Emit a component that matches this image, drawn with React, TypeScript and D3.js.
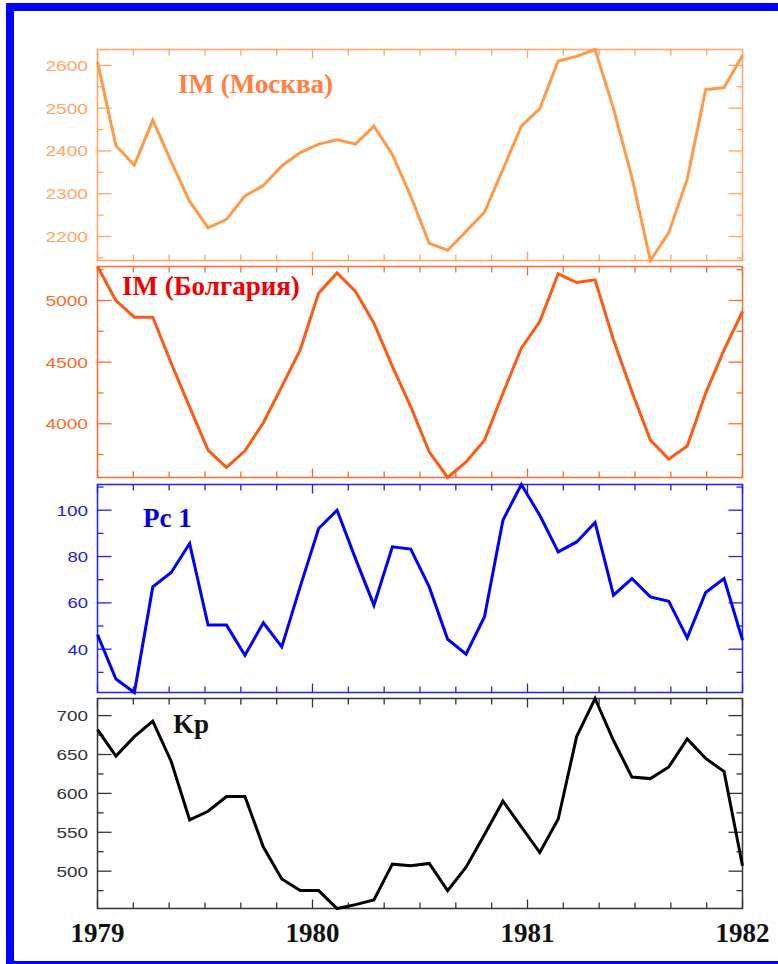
import React, { useEffect, useRef } from 'react'
import * as d3 from 'd3'

// monthly values, Jan 1979 .. Dec 1981, stretched over 1979-1982
const years = [1979, 1980, 1981, 1982]
const imMoscow = [2608, 2412, 2367, 2472, 2375, 2282, 2220, 2240, 2295, 2319, 2365, 2396,
  2416, 2426, 2416, 2458, 2392, 2294, 2184, 2168, 2212, 2257, 2357, 2458,
  2499, 2610, 2621, 2637, 2499, 2338, 2144, 2209, 2334, 2543, 2548, 2623]
const imBulgaria = [5276, 5000, 4865, 4865, 4491, 4135, 3786, 3645, 3780, 4008, 4301, 4600,
  5060, 5223, 5073, 4816, 4466, 4138, 3772, 3564, 3691, 3867, 4247, 4613,
  4829, 5217, 5146, 5168, 4680, 4260, 3867, 3713, 3819, 4247, 4600, 4911]
const pc1 = [46.3, 27.1, 21.3, 66.9, 73.1, 85.6, 50.4, 50.4, 37.4, 51.4, 41.0, 67.0,
  92.1, 100, 79.1, 59.0, 84.2, 83.2, 66.9, 44.3, 37.9, 54.0, 95.7, 111.1,
  97.8, 82.0, 86.3, 94.7, 63.3, 70.5, 62.6, 60.7, 44.9, 64.5, 70.5, 43.9]
const kp = [682, 648, 673, 693, 641, 566, 577, 596, 596, 531, 490, 475,
  475, 452, 457, 463, 509, 507, 510, 475, 505, 547, 590, 557,
  524, 567, 673, 722, 668, 621, 619, 634, 670, 645, 628, 507]

const moscowTicks = [2200, 2300, 2400, 2500, 2600]
const bulgariaTicks = [4000, 4500, 5000]
const pc1Ticks = [40, 60, 80, 100]
const kpTicks = [500, 550, 600, 650, 700]

const panels = [
  { title: 'IM (Москва)', values: imMoscow, ticks: moscowTicks, top: 49.5, bottom: 260.5,
    line: '#ff9a48', axis: '#ffa466', titleColor: '#ff8040', tx: 178, ty: 93 },
  { title: 'IM (Болгария)', values: imBulgaria, ticks: bulgariaTicks, top: 266.5, bottom: 477.5,
    line: '#ff5a14', axis: '#ff6a2c', titleColor: '#f00000', tx: 122, ty: 295 },
  { title: 'Pc 1', values: pc1, ticks: pc1Ticks, top: 484.5, bottom: 692.5,
    line: '#0000ff', axis: '#2020ff', titleColor: '#0000e0', tx: 143, ty: 527 },
  { title: 'Kp', values: kp, ticks: kpTicks, top: 698.5, bottom: 908.5,
    line: '#000000', axis: '#333333', titleColor: '#111111', tx: 173, ty: 733 },
]

const X0 = 97.5
const X1 = 742.5

export default function App() {
  const ref = useRef<SVGSVGElement>(null)

  useEffect(() => {
    const svg = d3.select(ref.current)
    svg.selectAll('*').remove()

    // frame
    svg.append('rect').attr('x', 6).attr('y', 3).attr('width', 790).attr('height', 961).attr('fill', '#0000ff')
    svg.append('rect').attr('x', 14).attr('y', 11).attr('width', 780).attr('height', 950).attr('fill', '#ffffff')

    const x = d3.scaleLinear().domain([0, imMoscow.length - 1]).range([X0, X1])
    const xYear = d3.scaleLinear().domain([years[0], years[years.length - 1]]).range([X0, X1])
    const monthTicks = d3.range(0, 19).map(k => years[0] + k / 6)

    panels.forEach(p => {
      const ext = d3.extent(p.values) as [number, number]
      const y = d3.scaleLinear().domain(ext).range([p.bottom, p.top])
      const g = svg.append('g')
      const step = p.ticks[1] - p.ticks[0]
      const minor = d3.range(p.ticks[0] - step, p.ticks[p.ticks.length - 1] + step * 1.01, step / 2)
        .filter(v => v >= ext[0] && v <= ext[1])

      // y ticks both sides
      minor.forEach(v => {
        const len = p.ticks.includes(v) ? 14 : 6
        const yy = y(v)
        g.append('line').attr('x1', X0).attr('x2', X0 + len).attr('y1', yy).attr('y2', yy)
          .attr('stroke', p.axis).attr('stroke-width', 1.3)
        g.append('line').attr('x1', X1).attr('x2', X1 - len).attr('y1', yy).attr('y2', yy)
          .attr('stroke', p.axis).attr('stroke-width', 1.3)
      })
      // x ticks top and bottom
      monthTicks.forEach((t, k) => {
        const len = k % 6 === 0 ? 9 : 6
        const xx = xYear(t)
        g.append('line').attr('x1', xx).attr('x2', xx).attr('y1', p.bottom).attr('y2', p.bottom - len)
          .attr('stroke', p.axis).attr('stroke-width', 1.3)
        g.append('line').attr('x1', xx).attr('x2', xx).attr('y1', p.top).attr('y2', p.top + len)
          .attr('stroke', p.axis).attr('stroke-width', 1.3)
      })
      g.append('rect').attr('x', X0).attr('y', p.top).attr('width', X1 - X0).attr('height', p.bottom - p.top)
        .attr('fill', 'none').attr('stroke', p.axis).attr('stroke-width', 1.5)

      g.selectAll('text.tick').data(p.ticks).enter().append('text')
        .attr('x', 88).attr('y', d => y(d) + 5.5)
        .attr('text-anchor', 'end')
        .attr('font-family', 'Liberation Sans, Arial, sans-serif')
        .attr('font-size', 15)
        .attr('textLength', d => String(d).length * 11 - 1.5)
        .attr('lengthAdjust', 'spacingAndGlyphs')
        .attr('fill', p.axis)
        .text(d => d)

      const line = d3.line<number>().x((_, i) => x(i)).y(d => y(d))
      g.append('path').datum(p.values).attr('d', line)
        .attr('fill', 'none').attr('stroke', p.line).attr('stroke-width', 3)
        .attr('stroke-linejoin', 'miter')

      g.append('text').attr('x', p.tx).attr('y', p.ty)
        .attr('font-family', 'Liberation Serif, Times New Roman, serif')
        .attr('font-weight', 'bold').attr('font-size', 27)
        .attr('fill', p.titleColor).text(p.title)
    })

    svg.selectAll('text.year').data(years).enter().append('text')
      .attr('x', d => xYear(d)).attr('y', 942)
      .attr('text-anchor', 'middle')
      .attr('font-family', 'Liberation Serif, Times New Roman, serif')
      .attr('font-weight', 'bold').attr('font-size', 27)
      .attr('fill', '#111').text(d => d)
  }, [])

  return (
    <svg ref={ref} width={778} height={964}
      style={{ position: 'absolute', left: 0, top: 0, display: 'block' }} />
  )
}
